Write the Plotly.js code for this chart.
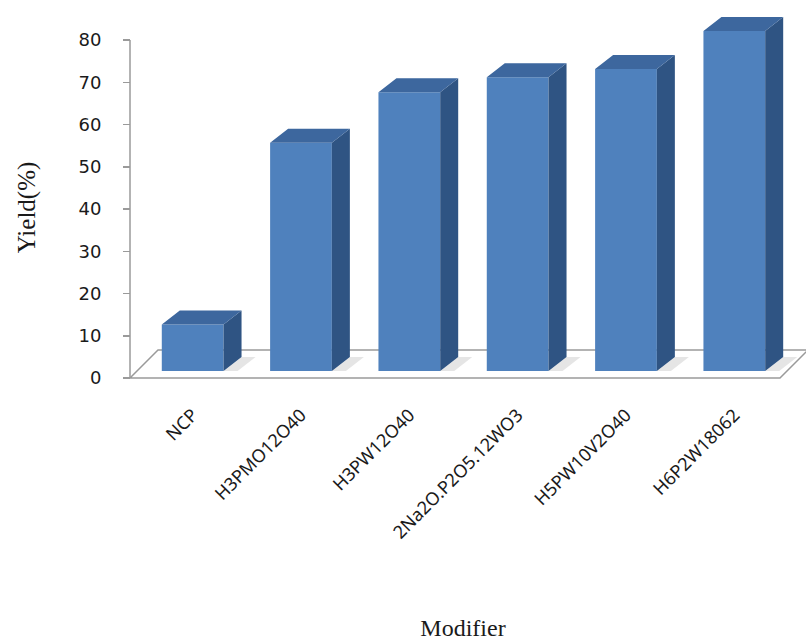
<!DOCTYPE html>
<html>
<head>
<meta charset="utf-8">
<script src="https://cdn.plot.ly/plotly-3.0.1.min.js"></script>
<style>html,body{margin:0;padding:0;background:#fff}</style>
</head>
<body>
<div id="chart" style="width:806px;height:641px"></div>
<script>
// Catalyst modifiers and the yield each gives
const categories = ['NCP', 'H3PMO12O40', 'H3PW12O40', '2Na2O.P2O5.12WO3', 'H5PW10V2O40', 'H6P2W18062'];
const yieldValues = [11, 54, 66, 69.5, 71.5, 80.5];
const yTickValues = [0, 10, 20, 30, 40, 50, 60, 70, 80];

// Oblique "3D column" look, expressed in axis units
const PX_X = 108.33;              // pixels per category slot
const PX_Y = 4.225;               // pixels per percent
const floorDx = 28 / PX_X, floorDy = 28 / PX_Y;
const barDx = 18 / PX_X, barDy = 14 / PX_Y;
const shiftX = 8.5 / PX_X, shiftY = 7 / PX_Y;
const barW = 0.57;

const FRONT = '#4f81bd', TOP = '#3d679e', SIDE = '#2f5483';
const EDGE = '#9a9a9a';

const xs = categories.map((_, i) => i + shiftX);
const last = categories.length - 0.5;

// side and top faces, one closed polygon per column
const sideX = [], sideY = [], topX = [], topY = [];
xs.forEach((x, i) => {
  const v = shiftY + yieldValues[i];
  const xl = x - barW / 2, xr = x + barW / 2;
  sideX.push(xr, xr + barDx, xr + barDx, xr, xr, null);
  sideY.push(shiftY, shiftY + barDy, v + barDy, v, shiftY, null);
  topX.push(xl, xl + barDx, xr + barDx, xr, xl, null);
  topY.push(v, v + barDy, v + barDy, v, v, null);
});

// soft shadows cast on the floor behind each column
const shadowX = [], shadowY = [];
xs.forEach((x) => {
  const xr = x + barW / 2;
  shadowX.push(xr, xr + 0.13, xr + 0.13 + barDx, xr + barDx, xr, null);
  shadowY.push(shiftY, shiftY, shiftY + barDy, shiftY + barDy, shiftY, null);
});

const traces = [
  { type: 'scatter', x: shadowX, y: shadowY, mode: 'lines', fill: 'toself',
    fillcolor: 'rgba(0,0,0,0.10)', line: { width: 0 }, hoverinfo: 'skip', showlegend: false },
  { type: 'bar', x: xs, y: yieldValues, base: shiftY, width: barW,
    marker: { color: FRONT, line: { width: 0 } }, hoverinfo: 'skip', showlegend: false },
  { type: 'scatter', x: sideX, y: sideY, mode: 'lines', fill: 'toself',
    fillcolor: SIDE, line: { width: 0, color: SIDE }, hoverinfo: 'skip', showlegend: false },
  { type: 'scatter', x: topX, y: topY, mode: 'lines', fill: 'toself',
    fillcolor: TOP, line: { width: 0, color: TOP }, hoverinfo: 'skip', showlegend: false }
];

const xStart = -0.5 - 10 / PX_X;
const plotW = 806 - 120;
const plotTop = 5, plotBottom = 410, zeroPx = 378;
const yMin = -(plotBottom - zeroPx) / PX_Y;
const yMax = (zeroPx - plotTop) / PX_Y;

const layout = {
  width: 806, height: 641,
  margin: { l: 120, r: 0, t: plotTop, b: 641 - plotBottom },
  paper_bgcolor: '#fff', plot_bgcolor: 'rgba(0,0,0,0)',
  showlegend: false,
  xaxis: {
    range: [xStart, xStart + plotW / PX_X],
    showgrid: false, zeroline: false, showline: false, ticks: '',
    tickvals: xs, ticktext: categories, tickangle: -45,
    ticklabelstandoff: -10,
    tickfont: { family: 'Noto Sans, Open Sans, sans-serif', size: 18, color: '#1a1a1a' },
    automargin: false,
    title: { text: 'Modifier', standoff: 76,
      font: { family: 'Liberation Serif, Times New Roman, serif', size: 24, color: '#1a1a1a' } }
  },
  yaxis: {
    range: [yMin, yMax],
    anchor: 'free', position: 10 / plotW,
    showgrid: false, zeroline: false, showline: false,
    tickvals: yTickValues, ticks: 'outside', ticklen: 7, tickwidth: 1.5, tickcolor: EDGE,
    ticklabelstandoff: 18,
    tickfont: { family: 'DejaVu Sans, Verdana, sans-serif', size: 18, color: '#1a1a1a' },
    automargin: false,
    title: { text: 'Yield(%)', standoff: 34,
      font: { family: 'Liberation Serif, Times New Roman, serif', size: 25, color: '#1a1a1a' } }
  },
  shapes: [
    // floor plate
    { type: 'path', xref: 'x', yref: 'y', layer: 'below',
      path: `M -0.5,0 L ${last},0 L ${last + floorDx},${floorDy} L ${-0.5 + floorDx},${floorDy} Z`,
      fillcolor: '#fff', line: { color: EDGE, width: 1.5 } },
    // value axis line
    { type: 'line', xref: 'x', yref: 'y', x0: -0.5, x1: -0.5,
      y0: 0, y1: yTickValues[yTickValues.length - 1],
      line: { color: EDGE, width: 1.5 } }
  ]
};

Plotly.newPlot('chart', traces, layout, { displayModeBar: false, staticPlot: true });
</script>
</body>
</html>
